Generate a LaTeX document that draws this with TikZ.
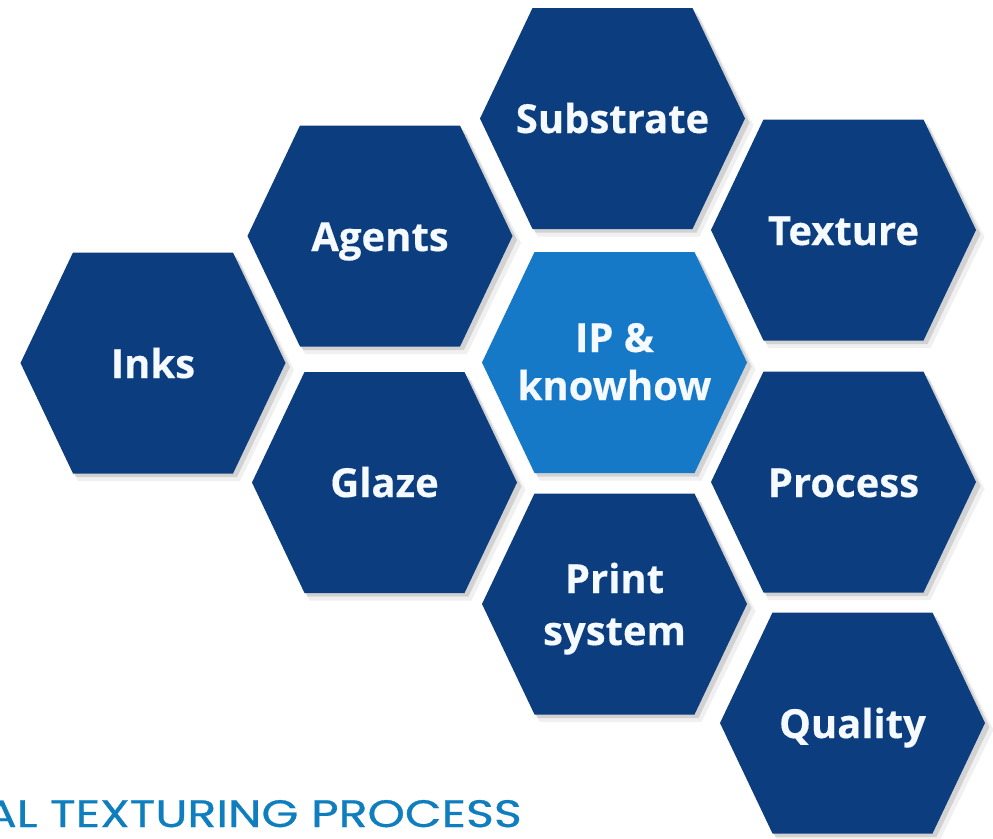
\documentclass[tikz,border=0pt]{standalone}
\usepackage{fontspec}
\setmainfont{Open Sans}[BoldFeatures={FakeBold=0.4}]
\newfontfamily\titlefont{Poppins}[FakeBold=0.6]
\definecolor{navy}{HTML}{0C3E7F}
\definecolor{lightblue}{HTML}{1679C8}
\definecolor{titleblue}{HTML}{0F7EBF}
\definecolor{labelwhite}{HTML}{F4FAFF}
\tikzset{
  hexfill/.style={fill=#1},
  hexshadow/.style={fill=black,opacity=#1},
  hexlabel/.style={text=labelwhite,font=\bfseries\fontsize{40}{48}\selectfont,anchor=base,inner sep=0pt},
  titlelabel/.style={text=titleblue,font=\titlefont\fontsize{37}{44}\selectfont,anchor=base east,inner sep=0pt}
}
% #1 center x, #2 center y, #3 colour
\newcommand\hexcellshape[3]{%
  \begin{scope}[shift={(#1,#2)}]
    \fill[hexshadow=0.06] (-129,7) -- (-75,-102) -- (87,-102) -- (141,7) -- (87,118) -- (-75,118) -- cycle;
    \fill[hexshadow=0.12] (-130,4) -- (-77,-106) -- (84,-106) -- (137,4) -- (84,114) -- (-77,114) -- cycle;
    \fill[hexfill=#3] (-132.5,0) -- (-80,-110.5) -- (80,-110.5) -- (132.5,0) -- (80,110.5) -- (-80,110.5) -- cycle;
  \end{scope}}
\begin{document}
\begin{tikzpicture}[x=1pt,y=-1pt]
  \useasboundingbox (0,0) rectangle (993,838);
  \fill[white] (0,0) rectangle (993,838);
  \hexcellshape{612.5}{118.5}{navy}
  \hexcellshape{380}{236}{navy}
  \hexcellshape{843.5}{230}{navy}
  \hexcellshape{153}{363}{navy}
  \hexcellshape{614.5}{362.5}{lightblue}
  \hexcellshape{384.5}{482.5}{navy}
  \hexcellshape{843.5}{482}{navy}
  \hexcellshape{614.5}{604}{navy}
  \hexcellshape{852.5}{723}{navy}
  \node[hexlabel] (substrate) at (612.5,133) {Substrate};
  \node[hexlabel] (agents) at (380,251) {Agents};
  \node[hexlabel] (texture) at (843.5,245) {Texture};
  \node[hexlabel] (inks) at (153,378) {Inks};
  \node[hexlabel] (ip) at (614.5,352) {IP \&};
  \node[hexlabel] (knowhow) at (614.5,400) {knowhow};
  \node[hexlabel] (glaze) at (384.5,497) {Glaze};
  \node[hexlabel] (process) at (843.5,497) {Process};
  \node[hexlabel] (print) at (614.5,593) {Print};
  \node[hexlabel] (system) at (614.5,645) {system};
  \node[hexlabel] (quality) at (852.5,738) {Quality};
  \node[titlelabel] (title) at (522,827) {\resizebox{537pt}{27pt}{AL TEXTURING PROCESS}};
\end{tikzpicture}
\end{document}
